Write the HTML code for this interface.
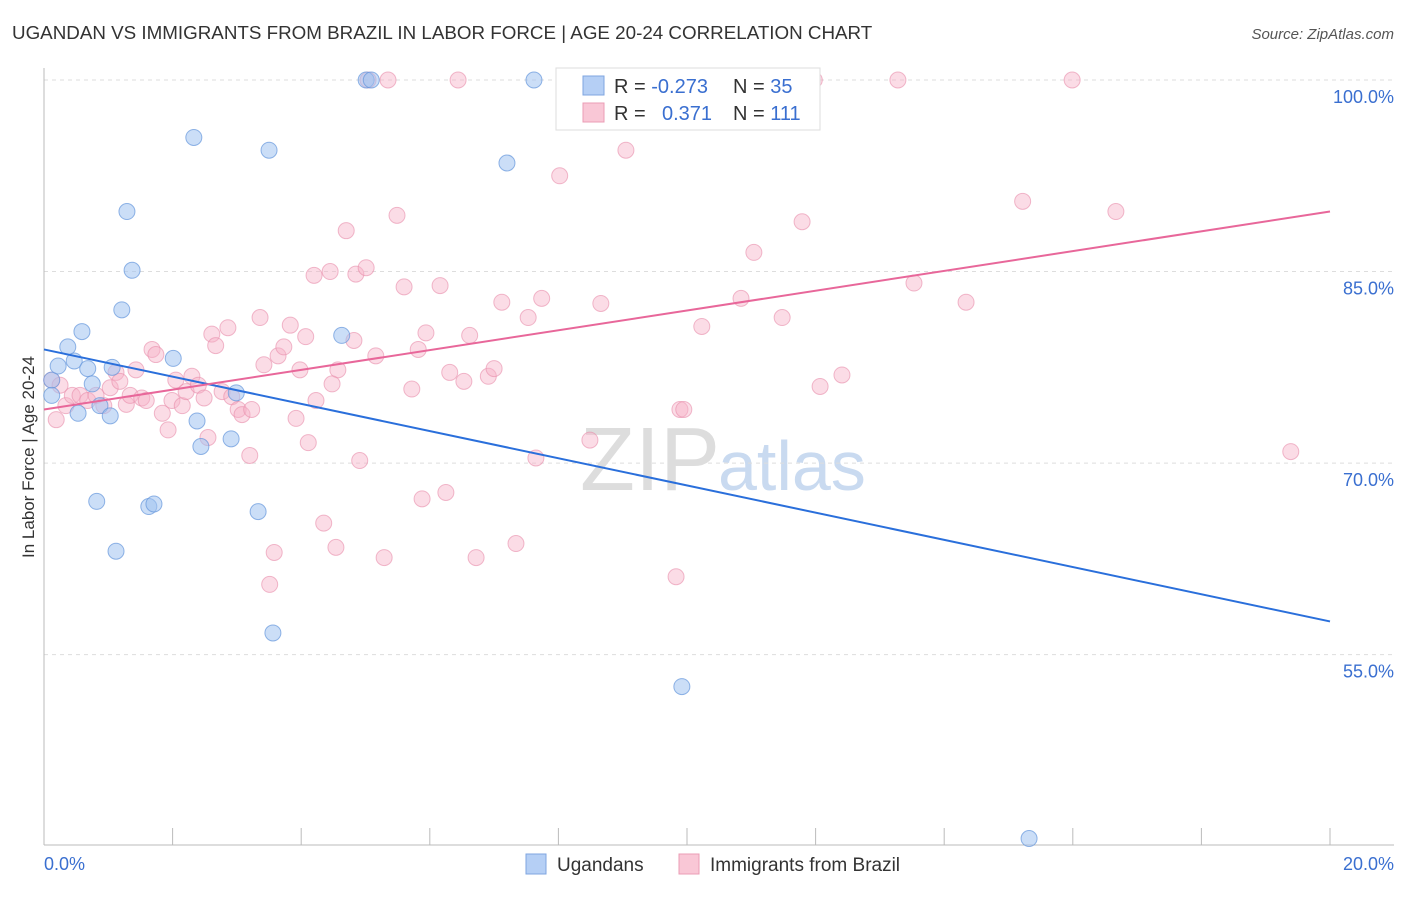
<!DOCTYPE html>
<html><head><meta charset="utf-8"><style>
body{margin:0;background:#fff;font-family:"Liberation Sans",sans-serif}
svg text{font-family:"Liberation Sans",sans-serif}
</style></head><body>
<svg id="c" width="1406" height="892">
<text x="12" y="39" font-size="18.8" fill="#333">UGANDAN VS IMMIGRANTS FROM BRAZIL IN LABOR FORCE | AGE 20-24 CORRELATION CHART</text>
<text x="1394" y="39" font-size="15" fill="#555" font-style="italic" text-anchor="end">Source: ZipAtlas.com</text>
<text x="720" y="490" font-size="90" fill="#ddd" text-anchor="end" font-family="Liberation Serif">ZIP</text>
<text x="718" y="490" font-size="70" fill="#c9daf0">atlas</text>
<g id="grid"></g><g id="pts"></g><g id="lines"></g>
<text transform="translate(34,457) rotate(-90)" font-size="17" fill="#333" text-anchor="middle">In Labor Force | Age 20-24</text>
<text x="44" y="870" font-size="18" fill="#3a6fd0">0.0%</text>
<text x="1394" y="870" font-size="18" fill="#3a6fd0" text-anchor="end">20.0%</text>
<g>
<rect x="556" y="68" width="264" height="62" fill="#fff" stroke="#ddd"/>
<rect x="583" y="76" width="21" height="19" fill="#b5cff5" stroke="#7fa6e0"/>
<rect x="583" y="103" width="21" height="19" fill="#f9c7d6" stroke="#eb9cb5"/>
<text x="614" y="93" font-size="20" fill="#333">R = <tspan fill="#3a6fd0">-0.273</tspan></text>
<text x="733" y="93" font-size="20" fill="#333">N = <tspan fill="#3a6fd0">35</tspan></text>
<text x="614" y="120" font-size="20" fill="#333">R = <tspan fill="#3a6fd0" x="662">0.371</tspan></text>
<text x="733" y="120" font-size="20" fill="#333">N = <tspan fill="#3a6fd0">111</tspan></text>
</g>
<g>
<rect x="526" y="854" width="20" height="20" fill="#b5cff5" stroke="#7fa6e0"/>
<text x="557" y="871" font-size="19" fill="#333">Ugandans</text>
<rect x="679" y="854" width="20" height="20" fill="#f9c7d6" stroke="#eb9cb5"/>
<text x="710" y="871" font-size="19" fill="#333">Immigrants from Brazil</text>
</g>
</svg>
<script>
const yTicks=[100,85,70,55];
const yTickLabels=["100.0%","85.0%","70.0%","55.0%"];
const blueX=[0.12,0.22,0.37,0.59,0.47,0.68,0.75,0.53,0.87,1.03,1.06,1.29,1.37,1.21,2.01,2.33,2.38,2.44,2.91,2.99,3.50,3.33,3.56,4.63,5.01,5.09,7.62,7.20,0.82,1.12,1.63,1.71,9.92,15.32,0.12];
const blueY=[76.5,77.6,79.1,80.3,78.0,77.4,76.2,73.9,74.5,73.7,77.5,89.7,85.1,82.0,78.2,95.5,73.3,71.3,71.9,75.5,94.5,66.2,56.7,80.0,100,100,100,93.5,67.0,63.1,66.6,66.8,52.5,40.6,75.3];
const pinkX=[0.19,0.12,0.25,0.34,0.44,0.56,0.68,0.81,0.93,1.03,1.12,1.18,1.28,1.34,1.43,1.52,1.59,1.68,1.74,1.84,1.93,1.99,2.05,2.15,2.21,2.30,2.40,2.49,2.55,2.61,2.67,2.77,2.86,2.92,3.02,3.08,3.20,3.23,3.36,3.42,3.51,3.58,3.64,3.73,3.83,3.92,3.98,4.07,4.11,4.23,4.20,4.35,4.45,4.54,4.57,4.70,4.82,4.85,4.91,5.01,5.16,5.29,5.35,5.49,5.60,5.72,5.82,5.94,5.88,6.16,6.25,6.31,6.44,6.53,6.62,6.72,6.91,7.00,7.12,7.34,7.53,7.65,7.74,8.02,8.15,8.49,8.66,9.05,9.83,9.89,9.95,10.23,10.84,11.04,11.48,11.79,11.98,12.07,12.41,13.28,13.53,14.34,15.22,15.99,16.67,19.39,5.04,4.48];
const pinkY=[73.4,76.5,76.1,74.5,75.3,75.3,74.9,75.3,74.5,75.9,77.1,76.4,74.6,75.3,77.3,75.1,74.9,78.9,78.5,73.9,72.6,74.9,76.5,74.5,75.6,76.8,76.1,75.1,72.0,80.1,79.2,75.6,80.6,75.2,74.2,73.8,70.6,74.2,81.4,77.7,60.5,63.0,78.4,79.1,80.8,73.5,77.3,79.9,71.6,74.9,84.7,65.3,85.0,63.4,77.3,88.2,79.6,84.8,70.2,85.3,78.4,62.6,100,89.4,83.8,75.8,78.9,80.2,67.2,83.9,67.7,77.1,100,76.4,80.0,62.6,76.8,77.4,82.6,63.7,81.4,70.4,82.9,92.5,100,71.8,82.5,94.5,61.1,74.2,74.2,80.7,82.9,86.5,81.4,88.9,100,76.0,76.9,100,84.1,82.6,90.5,100,89.7,70.9,100,76.2];
const bFit=[78.9,57.6], pFit=[74.2,89.7];
const X=v=>44+v/20*1286, Y=v=>80+(100-v)*12.77;
const NS='http://www.w3.org/2000/svg';
function mk(p,t,a){const e=document.createElementNS(NS,t);for(const k in a)e.setAttribute(k,a[k]);p.appendChild(e);return e;}
const g=document.getElementById('grid');
yTicks.forEach((t,i)=>{
 const l=mk(g,'line',{x1:44,x2:1394,y1:Y(t),y2:Y(t),stroke:'#ddd','stroke-dasharray':'4,4'});
 
 
 const tx=mk(g,'text',{x:1394,y:Y(t)+23,'font-size':18,fill:'#3a6fd0','text-anchor':'end'});
 tx.textContent=yTickLabels[i];
 
 
});
const ax=mk(g,'line',{x1:44,x2:44,y1:68,y2:845,stroke:'#bbb'});


const bx=mk(g,'line',{x1:44,x2:1394,y1:845,y2:845,stroke:'#bbb'});


for(let i=0;i<=10;i++){
 const t=mk(g,'line',{x1:X(i*2),x2:X(i*2),y1:828,y2:845,stroke:'#bbb'});
 
 
}
const P=document.getElementById('pts');
pinkX.forEach((x,i)=>{
 const c=mk(P,'circle',{cx:X(x),cy:Y(pinkY[i]),r:8,fill:'rgba(246,178,200,0.45)',stroke:'rgba(232,140,170,0.6)'});
 
 
});
blueX.forEach((x,i)=>{
 const c=mk(P,'circle',{cx:X(x),cy:Y(blueY[i]),r:8,fill:'rgba(160,195,240,0.55)',stroke:'rgba(100,150,220,0.7)'});
 
 
});
const L=document.getElementById('lines');
const bl=mk(L,'line',{x1:X(0),y1:Y(bFit[0]),x2:X(20),y2:Y(bFit[1]),stroke:'#2a6fdb','stroke-width':2});


const pl=mk(L,'line',{x1:X(0),y1:Y(pFit[0]),x2:X(20),y2:Y(pFit[1]),stroke:'#e8679a','stroke-width':2});


</script>
</body></html>
